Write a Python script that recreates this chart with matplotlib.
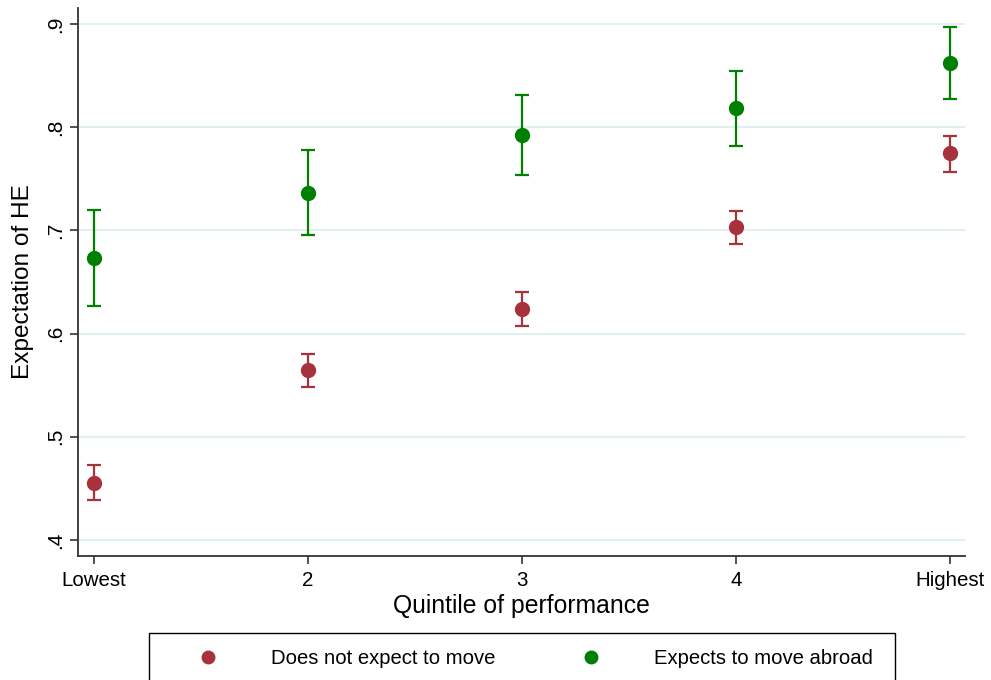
import matplotlib
matplotlib.use("Agg")
import matplotlib.pyplot as plt
from matplotlib.patches import Rectangle
import numpy as np

plt.rcParams['font.family'] = ['Liberation Sans', 'DejaVu Sans']

categories = ["Lowest", "2", "3", "4", "Highest"]
no_move_mean = [0.455, 0.565, 0.624, 0.703, 0.775]
no_move_lo = [0.439, 0.548, 0.607, 0.687, 0.757]
no_move_hi = [0.473, 0.580, 0.640, 0.719, 0.791]
abroad_mean = [0.673, 0.736, 0.792, 0.819, 0.862]
abroad_lo = [0.627, 0.696, 0.754, 0.782, 0.827]
abroad_hi = [0.720, 0.778, 0.831, 0.854, 0.897]
labels = ["Does not expect to move", "Expects to move abroad"]
yticks = [0.4, 0.5, 0.6, 0.7, 0.8, 0.9]
ytick_labels = [".4", ".5", ".6", ".7", ".8", ".9"]

red = "#A8323C"
green = "#008000"

W, H = 991, 680
fig = plt.figure(figsize=(W/100, H/100), dpi=100)
ax = fig.add_axes([78/W, 1-556/H, (965-78)/W, (556-8)/H])

x = np.arange(1, len(categories)+1)
handles = []
for mean, lo, hi, col in [(no_move_mean, no_move_lo, no_move_hi, red),
                          (abroad_mean, abroad_lo, abroad_hi, green)]:
    mean = np.array(mean); lo = np.array(lo); hi = np.array(hi)
    ax.errorbar(x, mean, yerr=[mean-lo, hi-mean], fmt='none', ecolor=col,
                elinewidth=1.6, capsize=5, capthick=1.6, zorder=3)
    h, = ax.plot(x, mean, 'o', color=col, markersize=10, zorder=4)
    handles.append(h)

ax.set_xlim(0.925, 5.07)
ax.set_ylim(0.3845, 0.9155)
ax.set_xticks(x)
ax.set_xticklabels(categories, fontsize=14.8)
ax.set_yticks(yticks)
ax.set_yticklabels(ytick_labels, fontsize=15, rotation=90, va='center')
ax.yaxis.grid(True, color="#E3EEF1", linewidth=1.5)
ax.set_axisbelow(True)
for s in ['top', 'right']:
    ax.spines[s].set_visible(False)
for s in ['left', 'bottom']:
    ax.spines[s].set_color('#333333')
    ax.spines[s].set_linewidth(1.3)
ax.tick_params(axis='both', direction='out', length=6, width=1.2, color='#333333')
ax.tick_params(axis='y', pad=3)
ax.tick_params(axis='x', pad=5)
ax.set_xlabel("Quintile of performance", fontsize=17.8, labelpad=3)
ax.set_ylabel("Expectation of HE", fontsize=17.6, labelpad=9)

# legend frame
rect = Rectangle((149/W, -0.1), (895-149)/W, 0.1 + 1 - 633/H, transform=fig.transFigure,
                 fill=False, edgecolor='black', linewidth=1.0)
fig.patches.append(rect)

leg = fig.legend(handles, labels, loc='center left',
                 bbox_to_anchor=(198/W, 1-659/H), ncol=2, frameon=False,
                 fontsize=14.6, handlelength=1.0, handletextpad=2.6,
                 columnspacing=4.24, borderpad=0, borderaxespad=0, markerscale=0.9)

fig.savefig("out.png", dpi=100)
